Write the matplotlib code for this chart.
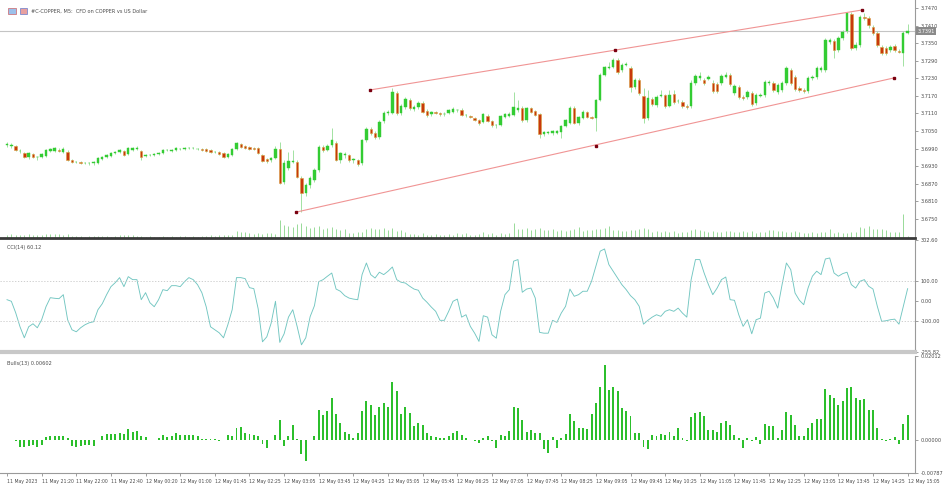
import matplotlib
matplotlib.use("Agg")
import matplotlib.pyplot as plt
import matplotlib.transforms as mtransforms
from matplotlib.patches import Rectangle
import numpy as np

plt.rcParams["font.family"] = ["DejaVu Sans"]

# ---- data (M5 bars, index 0 = 11 May 20:40) ----
opens = [
    3.7002, 3.6999, 3.6999, 3.6982, 3.6975, 3.6961, 3.6971, 3.6961, 3.6961, 3.6965,
    3.6982, 3.6982, 3.6985, 3.6978, 3.6978, 3.6951, 3.6944, 3.6944, 3.6941, 3.6941,
    3.6941, 3.6941, 3.6954, 3.6961, 3.6965, 3.6975, 3.6978, 3.6982, 3.6971, 3.6985,
    3.6988, 3.6982, 3.6965, 3.6968, 3.6968, 3.6971, 3.6975, 3.6985, 3.6982, 3.6985,
    3.6988, 3.6988, 3.6992, 3.6992, 3.6988, 3.6988, 3.6988, 3.6985, 3.6978, 3.6978,
    3.6975, 3.6961, 3.6968, 3.6988, 3.7006, 3.6999, 3.6995, 3.6992, 3.6992, 3.6968,
    3.6954, 3.6951, 3.6958, 3.6988, 3.6876, 3.6924, 3.6944, 3.6944, 3.6890, 3.6838,
    3.6866, 3.6883, 3.6917, 3.6995, 3.6985, 3.7002, 3.7009, 3.6951, 3.6968, 3.6968,
    3.6951, 3.6951, 3.6941, 3.7019, 3.7057, 3.7043, 3.7029, 3.7084, 3.7111, 3.7111,
    3.7180, 3.7111, 3.7132, 3.7156, 3.7125, 3.7132, 3.7145, 3.7118, 3.7108, 3.7115,
    3.7111, 3.7108, 3.7111, 3.7115, 3.7122, 3.7122, 3.7104, 3.7101, 3.7094, 3.7087,
    3.7081, 3.7101, 3.7084, 3.7070, 3.7070, 3.7098, 3.7101, 3.7104, 3.7122, 3.7128,
    3.7087, 3.7128, 3.7118, 3.7108, 3.7040, 3.7043, 3.7043, 3.7043, 3.7046, 3.7067,
    3.7077, 3.7128, 3.7077, 3.7094, 3.7115, 3.7098, 3.7094, 3.7156, 3.7241, 3.7265,
    3.7268, 3.7292, 3.7258, 3.7275, 3.7265, 3.7200, 3.7224, 3.7169, 3.7094, 3.7159,
    3.7139, 3.7169, 3.7173, 3.7135, 3.7176, 3.7152, 3.7149, 3.7135, 3.7135, 3.7214,
    3.7231, 3.7224, 3.7227, 3.7214, 3.7210, 3.7214, 3.7234, 3.7241, 3.7180, 3.7200,
    3.7166, 3.7166, 3.7180, 3.7145, 3.7169, 3.7173, 3.7214, 3.7214, 3.7183, 3.7190,
    3.7214, 3.7258, 3.7234, 3.7197, 3.7190, 3.7186, 3.7231, 3.7234, 3.7258, 3.7258,
    3.7354, 3.7357, 3.7326, 3.7367, 3.7391, 3.7449, 3.7333, 3.7343, 3.7439, 3.7436,
    3.7405, 3.7384, 3.7337, 3.7333, 3.7326, 3.7340, 3.7323, 3.7316, 3.7384,
]
highs = [
    3.7012, 3.7009, 3.7002, 3.6988, 3.6978, 3.6978, 3.6975, 3.6965, 3.6975, 3.6988,
    3.6992, 3.6995, 3.6992, 3.6995, 3.6985, 3.6954, 3.6948, 3.6948, 3.6944, 3.6944,
    3.6948, 3.6961, 3.6965, 3.6971, 3.6978, 3.6982, 3.6988, 3.6985, 3.6995, 3.6995,
    3.6999, 3.6985, 3.6971, 3.6971, 3.6975, 3.6978, 3.6988, 3.6988, 3.6988, 3.6995,
    3.6992, 3.6995, 3.6995, 3.6995, 3.6992, 3.6992, 3.6992, 3.6988, 3.6982, 3.6982,
    3.6978, 3.6975, 3.6992, 3.7012, 3.7009, 3.7002, 3.6999, 3.6995, 3.6995, 3.6971,
    3.6958, 3.6961, 3.6999, 3.7012, 3.6951, 3.6978, 3.6985, 3.6951, 3.6896, 3.6872,
    3.6896, 3.6924, 3.7002, 3.7002, 3.7006, 3.7060, 3.7016, 3.6978, 3.6978, 3.6971,
    3.6958, 3.6954, 3.7023, 3.7063, 3.7063, 3.7050, 3.7087, 3.7118, 3.7122, 3.7197,
    3.7186, 3.7142, 3.7166, 3.7162, 3.7139, 3.7152, 3.7152, 3.7125, 3.7118, 3.7118,
    3.7115, 3.7115, 3.7125, 3.7132, 3.7125, 3.7128, 3.7108, 3.7104, 3.7098, 3.7091,
    3.7111, 3.7108, 3.7087, 3.7074, 3.7104, 3.7111, 3.7115, 3.7183, 3.7156, 3.7135,
    3.7132, 3.7132, 3.7122, 3.7111, 3.7050, 3.7050, 3.7053, 3.7053, 3.7070, 3.7091,
    3.7135, 3.7135, 3.7101, 3.7122, 3.7118, 3.7101, 3.7159, 3.7248, 3.7272, 3.7285,
    3.7299, 3.7299, 3.7282, 3.7285, 3.7272, 3.7231, 3.7231, 3.7197, 3.7190, 3.7166,
    3.7173, 3.7190, 3.7176, 3.7190, 3.7190, 3.7159, 3.7156, 3.7142, 3.7224, 3.7244,
    3.7251, 3.7231, 3.7241, 3.7224, 3.7217, 3.7244, 3.7251, 3.7248, 3.7210, 3.7207,
    3.7173, 3.7190, 3.7186, 3.7180, 3.7180, 3.7224, 3.7224, 3.7221, 3.7214, 3.7221,
    3.7272, 3.7265, 3.7241, 3.7203, 3.7197, 3.7238, 3.7241, 3.7272, 3.7272, 3.7367,
    3.7367, 3.7364, 3.7374, 3.7395, 3.7456, 3.7456, 3.7354, 3.7446, 3.7453, 3.7442,
    3.7412, 3.7391, 3.7343, 3.7340, 3.7343, 3.7347, 3.7330, 3.7391, 3.7415,
]
lows = [
    3.6995, 3.6992, 3.6982, 3.6975, 3.6958, 3.6954, 3.6958, 3.6951, 3.6958, 3.6961,
    3.6978, 3.6978, 3.6978, 3.6975, 3.6948, 3.6941, 3.6941, 3.6937, 3.6937, 3.6934,
    3.6934, 3.6937, 3.6951, 3.6958, 3.6961, 3.6971, 3.6975, 3.6965, 3.6968, 3.6982,
    3.6985, 3.6951, 3.6961, 3.6965, 3.6965, 3.6968, 3.6971, 3.6982, 3.6978, 3.6982,
    3.6985, 3.6985, 3.6988, 3.6988, 3.6985, 3.6982, 3.6978, 3.6975, 3.6975, 3.6968,
    3.6958, 3.6958, 3.6965, 3.6985, 3.6992, 3.6988, 3.6985, 3.6985, 3.6971, 3.6944,
    3.6941, 3.6944, 3.6954, 3.6869, 3.6869, 3.6917, 3.6941, 3.6890, 3.6773, 3.6828,
    3.6855, 3.6876, 3.6910, 3.6978, 3.6982, 3.6995, 3.6948, 3.6941, 3.6958, 3.6944,
    3.6941, 3.6931, 3.6934, 3.7012, 3.7036, 3.7023, 3.7023, 3.7077, 3.7104, 3.7108,
    3.7104, 3.7104, 3.7125, 3.7122, 3.7118, 3.7125, 3.7111, 3.7098, 3.7101, 3.7108,
    3.7101, 3.7101, 3.7108, 3.7111, 3.7115, 3.7101, 3.7098, 3.7094, 3.7084, 3.7070,
    3.7077, 3.7081, 3.7063, 3.7060, 3.7067, 3.7094, 3.7098, 3.7101, 3.7115, 3.7081,
    3.7081, 3.7111, 3.7101, 3.7026, 3.7033, 3.7040, 3.7036, 3.7040, 3.7026, 3.7063,
    3.7074, 3.7074, 3.7070, 3.7091, 3.7094, 3.7091, 3.7050, 3.7152, 3.7238, 3.7262,
    3.7265, 3.7244, 3.7251, 3.7272, 3.7183, 3.7193, 3.7173, 3.7077, 3.7087, 3.7135,
    3.7132, 3.7166, 3.7128, 3.7132, 3.7142, 3.7145, 3.7128, 3.7125, 3.7128, 3.7207,
    3.7224, 3.7207, 3.7224, 3.7180, 3.7180, 3.7207, 3.7231, 3.7203, 3.7173, 3.7159,
    3.7156, 3.7159, 3.7135, 3.7139, 3.7166, 3.7166, 3.7207, 3.7183, 3.7176, 3.7183,
    3.7207, 3.7207, 3.7186, 3.7183, 3.7180, 3.7180, 3.7224, 3.7227, 3.7251, 3.7251,
    3.7347, 3.7299, 3.7320, 3.7360, 3.7384, 3.7326, 3.7326, 3.7337, 3.7429, 3.7401,
    3.7378, 3.7337, 3.7309, 3.7309, 3.7320, 3.7320, 3.7316, 3.7272, 3.7381,
]
closes = [
    3.7006, 3.7002, 3.6985, 3.6982, 3.6961, 3.6975, 3.6961, 3.6961, 3.6971, 3.6985,
    3.6988, 3.6992, 3.6982, 3.6988, 3.6951, 3.6944, 3.6944, 3.6941, 3.6941, 3.6941,
    3.6944, 3.6958, 3.6961, 3.6968, 3.6975, 3.6978, 3.6985, 3.6968, 3.6992, 3.6992,
    3.6992, 3.6961, 3.6968, 3.6968, 3.6971, 3.6975, 3.6985, 3.6985, 3.6985, 3.6992,
    3.6988, 3.6992, 3.6992, 3.6992, 3.6988, 3.6985, 3.6982, 3.6978, 3.6978, 3.6971,
    3.6961, 3.6971, 3.6988, 3.7009, 3.6995, 3.6992, 3.6988, 3.6988, 3.6975, 3.6948,
    3.6948, 3.6958, 3.6988, 3.6872, 3.6941, 3.6948, 3.6948, 3.6893, 3.6838, 3.6866,
    3.6890, 3.6917, 3.6995, 3.6985, 3.6999, 3.7019, 3.6951, 3.6975, 3.6971, 3.6951,
    3.6954, 3.6937, 3.7019, 3.7057, 3.7043, 3.7029, 3.7081, 3.7111, 3.7115, 3.7183,
    3.7111, 3.7135, 3.7159, 3.7128, 3.7132, 3.7145, 3.7115, 3.7104, 3.7115, 3.7111,
    3.7108, 3.7108, 3.7122, 3.7125, 3.7122, 3.7104, 3.7104, 3.7098, 3.7087, 3.7077,
    3.7108, 3.7084, 3.7070, 3.7070, 3.7101, 3.7108, 3.7108, 3.7132, 3.7128, 3.7087,
    3.7128, 3.7115, 3.7104, 3.7040, 3.7046, 3.7046, 3.7050, 3.7050, 3.7067, 3.7087,
    3.7128, 3.7077, 3.7098, 3.7115, 3.7098, 3.7094, 3.7156, 3.7241, 3.7268, 3.7268,
    3.7292, 3.7251, 3.7275, 3.7279, 3.7200, 3.7224, 3.7180, 3.7094, 3.7162, 3.7142,
    3.7166, 3.7173, 3.7135, 3.7173, 3.7149, 3.7152, 3.7135, 3.7132, 3.7214, 3.7238,
    3.7238, 3.7214, 3.7234, 3.7186, 3.7186, 3.7238, 3.7241, 3.7210, 3.7203, 3.7166,
    3.7162, 3.7183, 3.7142, 3.7173, 3.7173, 3.7217, 3.7217, 3.7190, 3.7207, 3.7214,
    3.7265, 3.7214, 3.7193, 3.7190, 3.7186, 3.7231, 3.7234, 3.7265, 3.7265, 3.7360,
    3.7360, 3.7326, 3.7367, 3.7388, 3.7453, 3.7333, 3.7343, 3.7439, 3.7436, 3.7412,
    3.7384, 3.7343, 3.7316, 3.7316, 3.7337, 3.7326, 3.7320, 3.7384, 3.7391,
]
volumes = [
    30, 35, 30, 25, 30, 35, 30, 25, 30, 40, 35, 40, 35, 30, 40,
    15, 20, 15, 10, 15, 20, 15, 20, 15, 10, 15, 30, 25, 30, 25, 20,
    15, 10, 15, 10, 10, 15, 10, 15, 10, 20, 15, 10, 15, 10, 15,
    20, 25, 20, 25, 30, 25, 30, 70, 60, 55, 45, 40, 45, 40, 50, 45, 40,
    180, 130, 120, 110, 140, 150, 120, 100, 110, 120, 90, 100, 110, 90, 80, 85,
    50, 45, 60, 55, 90, 95, 85, 90, 95, 80, 100, 70, 80, 60,
    40, 35, 30, 45, 30, 25, 35, 30, 25,
    40, 30, 50, 35, 45, 30, 25, 40, 55, 35, 45, 30, 50, 40, 45, 150,
    90, 85, 100, 80, 90,
    100, 80, 75, 85, 70, 80, 65, 75, 85, 110, 70, 80, 75, 90, 85, 100, 120, 80, 75,
    70, 65, 80, 75, 90, 100, 85, 60, 65, 55, 70, 60, 65, 50, 60, 55, 80, 90, 75, 65,
    60, 70, 55, 60, 65, 70, 60, 55, 65, 60, 70, 50, 55, 60, 75, 80, 70, 65, 60, 55,
    65, 60, 50, 50, 55, 50, 55, 60, 90, 50, 55, 50, 50, 60, 55, 110, 100, 120,
    90, 85, 90, 80, 60, 55, 60, 240, 20,
]
cci = [
    5, -3, -60, -130, -185, -130, -115, -135, -95, -30,
    15, 12, 10, 30, -95, -145, -155, -135, -120, -110,
    -105, -45, -15, 30, 70, 90, 115, 70, 120, 105,
    105, 5, 40, -10, -30, 5, 55, 50, 75, 75,
    70, 95, 115, 105, 80, 40, -30, -130, -145, -160,
    -185, -120, -45, 115, 115, 110, 65, 60, -40, -205,
    -180, -112, -3, -208, -165, -82, -45, -128, -220, -185,
    -80, -25, 95, 105, 122, 138, 58, 47, 25, 13,
    8, 5, 130, 188, 130, 113, 142, 130, 147, 168,
    105, 92, 88, 72, 58, 52, 13, -8, -32, -53,
    -98, -98, -53, -3, 8, -82, -70, -128, -162, -203,
    -75, -82, -170, -187, -53, 30, 55, 197, 205, 42,
    58, 63, 13, -158, -162, -162, -98, -108, -62, -28,
    58, 22, 30, 47, 47, 97, 172, 247, 258, 180,
    147, 113, 80, 55, 25, 5, -28, -117, -98, -82,
    -70, -78, -53, -45, -53, -37, -62, -82, 105, 205,
    205, 138, 80, 30, 63, 105, 118, 5, 2, -70,
    -128, -95, -165, -95, -87, 38, 47, 13, -37, 80,
    188, 155, 38, 2, -20, 63, 122, 147, 130, 208,
    213, 138, 122, 135, 142, 80, 63, 97, 105, 72,
    58, -28, -103, -100, -95, -92, -117, -28, 60.12,
]
bulls = [
    0.0001, 0.0000, -0.0001, -0.0016, -0.0017, -0.0014, -0.0011, -0.0016, -0.0012, 0.0008,
    0.0009, 0.0009, 0.0010, 0.0011, 0.0004, -0.0013, -0.0017, -0.0014, -0.0011, -0.0012,
    -0.0014, 0.0001, 0.0009, 0.0015, 0.0015, 0.0015, 0.0017, 0.0015, 0.0027, 0.0020,
    0.0021, 0.0009, 0.0007, 0.0001, 0.0001, 0.0004, 0.0012, 0.0007, 0.0009, 0.0017,
    0.0012, 0.0012, 0.0012, 0.0012, 0.0009, 0.0002, 0.0003, 0.0002, 0.0003, -0.0001,
    0.0001, 0.0013, 0.0009, 0.0028, 0.0031, 0.0017, 0.0015, 0.0012, 0.0009, -0.0010,
    -0.0018, 0.0001, 0.0012, 0.0049, -0.0014, 0.0009, 0.0035, 0.0002, -0.0034, -0.0050,
    0.0001, 0.0009, 0.0072, 0.0061, 0.0070, 0.0100, 0.0062, 0.0041, 0.0020, 0.0015,
    0.0006, 0.0017, 0.0070, 0.0094, 0.0083, 0.0061, 0.0080, 0.0088, 0.0079, 0.0139,
    0.0117, 0.0063, 0.0080, 0.0065, 0.0033, 0.0041, 0.0037, 0.0017, 0.0009, 0.0007,
    0.0004, 0.0004, 0.0009, 0.0017, 0.0021, 0.0012, 0.0004, 0.0000, -0.0001, -0.0006,
    0.0006, 0.0009, -0.0002, -0.0018, 0.0012, 0.0009, 0.0021, 0.0080, 0.0076, 0.0049,
    0.0020, 0.0025, 0.0017, 0.0017, -0.0022, -0.0032, 0.0007, -0.0020, 0.0004, 0.0015,
    0.0063, 0.0046, 0.0028, 0.0029, 0.0027, 0.0063, 0.0088, 0.0127, 0.0180, 0.0121,
    0.0126, 0.0118, 0.0076, 0.0070, 0.0057, 0.0017, 0.0017, -0.0017, -0.0022, 0.0013,
    0.0009, 0.0015, 0.0013, 0.0020, 0.0009, 0.0028, 0.0004, -0.0002, 0.0055, 0.0065,
    0.0067, 0.0057, 0.0025, 0.0025, 0.0020, 0.0042, 0.0046, 0.0037, 0.0012, 0.0006,
    -0.0020, 0.0004, -0.0001, 0.0007, -0.0009, 0.0039, 0.0033, 0.0033, 0.0004, 0.0023,
    0.0068, 0.0059, 0.0035, 0.0009, 0.0009, 0.0028, 0.0042, 0.0050, 0.0051, 0.0123,
    0.0109, 0.0101, 0.0085, 0.0094, 0.0124, 0.0126, 0.0101, 0.0097, 0.0099, 0.0072,
    0.0072, 0.0028, 0.0002, -0.0002, 0.0002, 0.0008, -0.0009, 0.0038, 0.00602,
]
time_labels = [
    "11 May 2023", "11 May 21:20", "11 May 22:00", "11 May 22:40", "12 May 00:20",
    "12 May 01:00", "12 May 01:45", "12 May 02:25", "12 May 03:05", "12 May 03:45",
    "12 May 04:25", "12 May 05:05", "12 May 05:45", "12 May 06:25", "12 May 07:05",
    "12 May 07:45", "12 May 08:25", "12 May 09:05", "12 May 09:45", "12 May 10:25",
    "12 May 11:05", "12 May 11:45", "12 May 12:25", "12 May 13:05", "12 May 13:45",
    "12 May 14:25", "12 May 15:05",
]
price_ticks = [3.6750, 3.6810, 3.6870, 3.6930, 3.6990, 3.7050, 3.7110,
               3.7170, 3.7230, 3.7290, 3.7350, 3.7410, 3.7470]
cci_ticks = [302.60, 100.0, 0.0, -100.0, -255.82]
bulls_ticks = [0.02012, 0.0, -0.00787]

# drawn trend lines: (bar index, price) anchors
upper_bars = [83.8, 140.4, 197.5]
upper_prices = [3.7190, 3.7326, 3.7463]
lower_bars = [66.7, 136.0, 204.8]
lower_prices = [3.6773, 3.6999, 3.7231]

# ---- colours ----
BULL = "#33cc33"
BEAR = "#c8380c"
BEAR_EDGE = "#d8a040"
WICK = "#a2e2a2"
VOL = "#98da98"
CCI_COLOR = "#72c6c1"
BULLS_COLOR = "#2cbf2c"
TREND = "#f09494"
TREND_PT = "#7a0010"
TXT = "#4a4a4a"
FS = 3.6
FS_X = 3.35

W, H = 948, 488
fig = plt.figure(figsize=(W / 100, H / 100), dpi=100)
fig.patch.set_facecolor("white")


def add_panel(top, bottom, sharex=None):
    return fig.add_axes([0, 1 - bottom / H, 915 / W, (bottom - top) / H], sharex=sharex)


ax = add_panel(0, 238)
ax_cci = add_panel(240, 352, sharex=ax)
ax_bulls = add_panel(356, 473, sharex=ax)

x = np.arange(len(closes))
o, h, l, c = (np.array(v) for v in (opens, highs, lows, closes))
up = c >= o

# volumes along the bottom of the price panel
vol = np.array(volumes, dtype=float)
vol_top = vol.max() * 9.9
x_blend = mtransforms.blended_transform_factory(ax.transData, ax.transAxes)
y_blend = mtransforms.blended_transform_factory(ax.transAxes, ax.transData)
ax.vlines(x, 0, vol / vol_top, color=VOL, lw=0.7, transform=x_blend, zorder=1)

# candles
ax.vlines(x, l, h, color=WICK, lw=0.7, zorder=2)
body_lo = np.minimum(o, c)
body_h = np.maximum(np.abs(c - o), 0.00009)
ax.bar(x[up], body_h[up], bottom=body_lo[up], width=0.55, color=BULL,
       edgecolor=BULL, linewidth=0.3, zorder=3)
ax.bar(x[~up], body_h[~up], bottom=body_lo[~up], width=0.55, color=BEAR,
       edgecolor=BEAR_EDGE, linewidth=0.4, zorder=3)

# current price line and trend lines
ax.axhline(closes[-1], color="#c4c4c4", lw=0.8, zorder=1)
for bars_, prices_ in ((upper_bars, upper_prices), (lower_bars, lower_prices)):
    ax.plot([bars_[0], bars_[-1]], [prices_[0], prices_[-1]], color=TREND, lw=0.8, zorder=4)
    ax.plot(bars_, prices_, "s", ms=1.8, color=TREND_PT, zorder=5)

ax.set_xlim(-1.62, 209.7)
ax.set_ylim(3.6685, 3.7497)
ax.set_yticks(price_ticks)
ax.set_yticklabels([f"{v:.4f}" for v in price_ticks])
ax.text(1.003, closes[-1], f"{closes[-1]:.4f}", transform=y_blend,
        fontsize=FS, color="white", va="center", ha="left",
        bbox=dict(boxstyle="square,pad=0.25", fc="#8a8a8a", ec="none"), clip_on=False, zorder=6)

# CCI
ax_cci.plot(x, cci, color=CCI_COLOR, lw=0.65)
for lvl in (100, -100):
    ax_cci.axhline(lvl, color="#c6c6c6", lw=0.6, ls=(0, (1.5, 2)))
ax_cci.set_ylim(cci_ticks[-1], cci_ticks[0])
ax_cci.set_yticks(cci_ticks)
ax_cci.set_yticklabels([f"{v:.2f}" for v in cci_ticks])
ax_cci.text(0.008, 0.955, f"CCI(14) {cci[-1]:.2f}", transform=ax_cci.transAxes,
            fontsize=FS, color=TXT, va="top")

# Bulls Power
ax_bulls.bar(x, bulls, width=0.45, color=BULLS_COLOR)
ax_bulls.set_ylim(bulls_ticks[-1], bulls_ticks[0])
ax_bulls.set_yticks(bulls_ticks)
ax_bulls.set_yticklabels([f"{v:.5f}" for v in bulls_ticks])
ax_bulls.text(0.008, 0.955, f"Bulls(13) {bulls[-1]:.5f}", transform=ax_bulls.transAxes,
              fontsize=FS, color=TXT, va="top")

ax_bulls.set_xticks(np.arange(0, len(closes), 8))
ax_bulls.set_xticklabels(time_labels, ha="left")
ax_bulls.tick_params(axis="x", length=2.5, width=0.5, color="#777777", labelsize=FS_X,
                     labelcolor=TXT, pad=1.5)

for a, bottom_color, bottom_lw in ((ax, "#3a3a3a", 2.0), (ax_cci, "#c8c8c8", 3.0),
                                   (ax_bulls, "#9a9a9a", 0.8)):
    a.set_facecolor("none")
    a.spines["left"].set_visible(False)
    a.spines["top"].set_visible(False)
    a.spines["right"].set_color("#9a9a9a")
    a.spines["right"].set_linewidth(0.8)
    a.spines["bottom"].set_color(bottom_color)
    a.spines["bottom"].set_linewidth(bottom_lw)
    a.yaxis.tick_right()
    a.tick_params(axis="y", length=2.5, width=0.5, color="#777777", labelsize=FS,
                  labelcolor=TXT, pad=1.5)
    if a is not ax_bulls:
        a.tick_params(axis="x", bottom=False, labelbottom=False)

# symbol header
fig.add_artist(Rectangle((8 / W, 1 - 14 / H), 8 / W, 6 / H, transform=fig.transFigure,
                         fc="#9cc0ea", ec="#cc4444", lw=0.4))
fig.add_artist(Rectangle((20 / W, 1 - 14 / H), 7 / W, 6 / H, transform=fig.transFigure,
                         fc="#e8a0a0", ec="#4466cc", lw=0.4))
fig.text(31 / W, 1 - 11 / H, "#C-COPPER, M5:  CFD on COPPER vs US Dollar", fontsize=FS,
         color=TXT, va="center", ha="left")

fig.savefig("out.png", dpi=100, facecolor="white")
